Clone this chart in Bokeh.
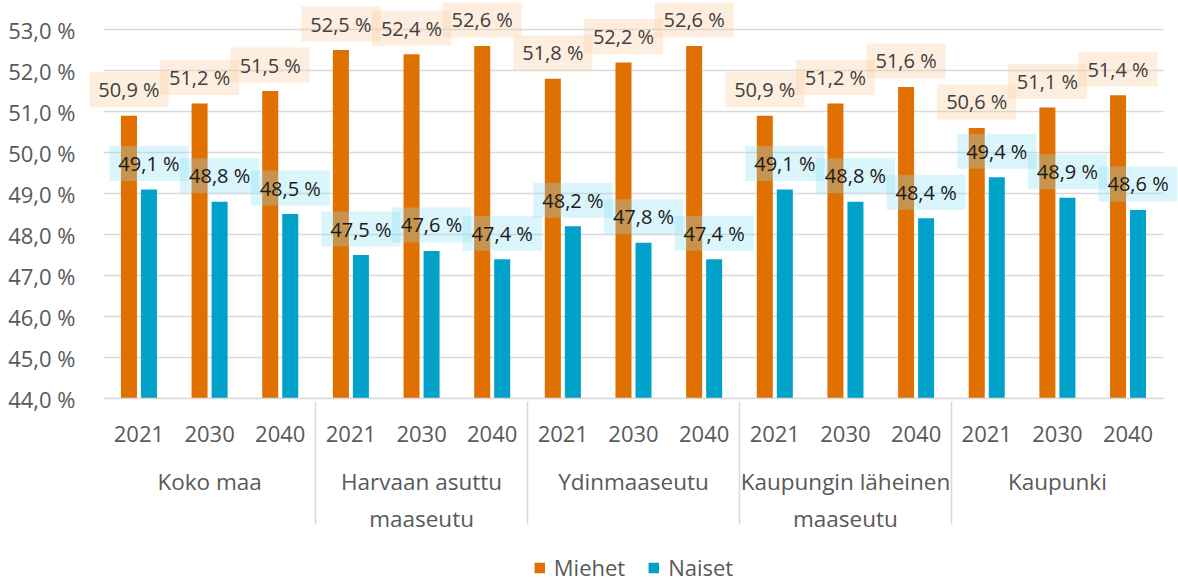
from bokeh.plotting import figure
from bokeh.layouts import column
from bokeh.models import (ColumnDataSource, FactorRange, Range1d, FixedTicker,
                          CustomJSTickFormatter, Legend, LegendItem, Label)
from bokeh.transform import dodge
from bokeh.embed import file_html
from bokeh.resources import INLINE

groups = ["Koko maa", "Harvaan asuttu\nmaaseutu", "Ydinmaaseutu",
          "Kaupungin läheinen\nmaaseutu", "Kaupunki"]
years = ["2021", "2030", "2040"]
miehet = [50.9, 51.2, 51.5, 52.5, 52.4, 52.6, 51.8, 52.2, 52.6,
          50.9, 51.2, 51.6, 50.6, 51.1, 51.4]
naiset = [49.1, 48.8, 48.5, 47.5, 47.6, 47.4, 48.2, 47.8, 47.4,
          49.1, 48.8, 48.4, 49.4, 48.9, 48.6]
yticks = [44, 45, 46, 47, 48, 49, 50, 51, 52, 53]

FONT = "Open Sans"
ORANGE = "#E07000"
BLUE = "#00A2C9"
GREY = "#595959"
LIGHT = "#D9D9D9"


def fmt(v):
    return f"{v:.1f}".replace(".", ",") + " %"


x = [(g, y) for g in groups for y in years]
n = len(x)
src = ColumnDataSource(dict(x=x, m=miehet, n=naiset))

# a little padding on both sides so the outermost data labels are not clipped
xr = FactorRange(*x, factor_padding=0, group_padding=0,
                 range_padding=0.2, range_padding_units='absolute')
p = figure(x_range=xr, y_range=Range1d(44, 53.71), frame_width=1088, frame_height=398,
           output_backend="svg", toolbar_location=None,
           min_border_left=89, min_border_right=1, min_border_top=0,
           min_border_bottom=0, outline_line_color=None)

# horizontal gridlines limited to the category span
p.segment(x0=[0] * len(yticks), x1=[n] * len(yticks), y0=yticks, y1=yticks,
          line_color=LIGHT, line_width=1.5)

off = 0.1417
bw = 0.2266
rm = p.vbar(x=dodge('x', -off, range=xr), top='m', bottom=44, width=bw,
            source=src, fill_color=ORANGE, line_color=None)
rn = p.vbar(x=dodge('x', off, range=xr), top='n', bottom=44, width=bw,
            source=src, fill_color=BLUE, line_color=None)

# data labels; x in the factor range's synthetic coordinates (factor i at i + 0.5)
for i, vm in enumerate(miehet):
    p.add_layout(Label(x=i + 0.5 - off, y=vm, text=fmt(vm), y_offset=26,
                       text_align='center', text_baseline='middle',
                       text_font=FONT, text_font_size='20px', text_color='#404040',
                       background_fill_color='#F9CEA3', background_fill_alpha=0.35,
                       padding=(9, 4)))
for i, vn in enumerate(naiset):
    p.add_layout(Label(x=i + 0.5 + off, y=vn, text=fmt(vn), y_offset=26,
                       text_align='center', text_baseline='middle',
                       text_font=FONT, text_font_size='20px', text_color='#1A1A1A',
                       background_fill_color='#8FE0F6', background_fill_alpha=0.32,
                       padding=(9, 4)))

p.yaxis.ticker = FixedTicker(ticks=yticks)
p.yaxis.formatter = CustomJSTickFormatter(
    code="return tick.toFixed(1).replace('.', ',') + ' %';")
p.yaxis.axis_line_color = None
p.yaxis.major_tick_line_color = None
p.yaxis.minor_tick_line_color = None
p.yaxis.major_label_text_font = FONT
p.yaxis.major_label_text_font_size = '22px'
p.yaxis.major_label_text_color = GREY
p.yaxis.major_label_standoff = 8

p.xaxis.bounds = (0, n)
p.xaxis.axis_line_color = LIGHT
p.xaxis.axis_line_width = 1.5
p.xaxis.major_tick_line_color = None
p.xaxis.minor_tick_line_color = None
p.xaxis.major_label_text_font = FONT
p.xaxis.major_label_text_font_size = '22px'
p.xaxis.major_label_text_color = GREY
p.xaxis.major_label_standoff = 21
p.xaxis.group_text_font = FONT
p.xaxis.group_text_font_size = '22.5px'
p.xaxis.group_text_font_style = 'normal'
p.xaxis.group_text_color = GREY
p.xaxis.separator_line_color = LIGHT
p.xaxis.separator_line_width = 1.5

p.xgrid.grid_line_color = None
p.ygrid.grid_line_color = None

# legend strip below the chart (its key renderers sit outside the strip's view)
q = figure(width=1178, height=46, output_backend="svg", toolbar_location=None,
           x_axis_location=None, y_axis_location=None, outline_line_color=None,
           min_border=0, x_range=Range1d(0, 1), y_range=Range1d(0, 1))
q.xgrid.grid_line_color = None
q.ygrid.grid_line_color = None
lm = q.vbar(x=[-1], top=[-1], width=0.1, fill_color=ORANGE, line_color=None)
ln = q.vbar(x=[-1], top=[-1], width=0.1, fill_color=BLUE, line_color=None)
legend = Legend(items=[LegendItem(label="Miehet", renderers=[lm]),
                       LegendItem(label="Naiset", renderers=[ln])],
                orientation='horizontal', location='bottom_center',
                border_line_color=None, background_fill_alpha=0,
                label_text_font=FONT, label_text_font_size='22px',
                label_text_color=GREY, glyph_width=13, glyph_height=13,
                spacing=22, padding=0, margin=0, label_standoff=8)
q.add_layout(legend)

open("out.html", "w").write(file_html(column(p, q, spacing=0), INLINE))
